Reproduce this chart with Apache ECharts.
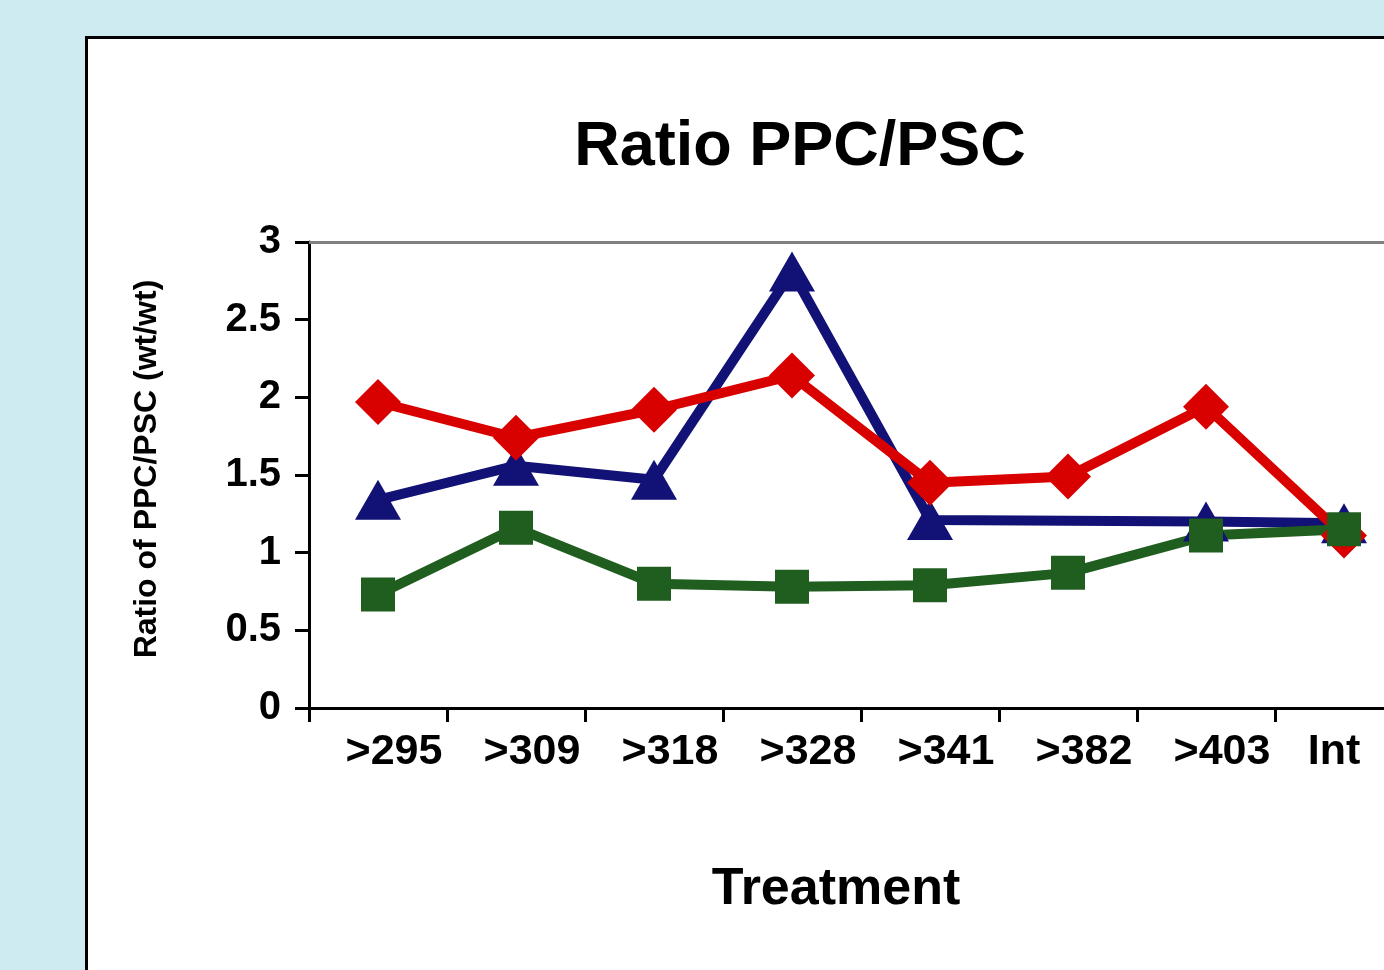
<!DOCTYPE html>
<html>
<head>
<meta charset="utf-8">
<script src="https://cdn.jsdelivr.net/npm/echarts@6/dist/echarts.min.js"></script>
<style>
html,body{margin:0;padding:0;background:#cdebf0;overflow:hidden;}
#chart{width:1440px;height:970px;}
</style>
</head>
<body>
<div id="chart"></div>
<script>
const categories = ['>295', '>309', '>318', '>328', '>341', '>382', '>403', 'Int'];
const redSeries = [1.97, 1.74, 1.92, 2.14, 1.45, 1.49, 1.94, 1.11];
const blueSeries = [1.34, 1.56, 1.47, 2.81, 1.21, null, 1.20, 1.19];
const greenSeries = [0.73, 1.16, 0.80, 0.78, 0.79, 0.87, 1.11, 1.15];
const yTicks = { min: 0, max: 3, interval: 0.5 };

const font = "'Liberation Sans', Arial, Helvetica, sans-serif";
const labelStyle = { fontFamily: font, fontWeight: 'bold', fontSize: 43, color: '#000' };

const chart = echarts.init(document.getElementById('chart'), null, { renderer: 'canvas' });
chart.setOption({
  backgroundColor: '#cdebf0',
  animation: false,
  graphic: [{
    type: 'rect', z: -10,
    shape: { x: 86.5, y: 37.5, width: 1450, height: 1000 },
    style: { fill: '#ffffff', stroke: '#000000', lineWidth: 3 }
  }],
  title: [{
    text: 'Ratio PPC/PSC',
    left: 795, top: 111, textAlign: 'center',
    textStyle: { fontFamily: font, fontWeight: 'bold', fontSize: 63, color: '#000' }
  }, {
    text: 'Treatment',
    left: 831, top: 859, textAlign: 'center',
    textStyle: { fontFamily: font, fontWeight: 'bold', fontSize: 52, color: '#000' }
  }],
  grid: { left: 309, top: 242, width: 1104, height: 466, containLabel: false },
  xAxis: [{
    type: 'category', data: categories, boundaryGap: true, position: 'bottom',
    axisLine: { lineStyle: { color: '#000', width: 3 } },
    axisTick: { show: true, inside: false, length: 14, interval: 0, lineStyle: { color: '#000', width: 3 } },
    axisLabel: {
      interval: 0, margin: 23,
      formatter: function (v) { return v === 'Int' ? '{b|' + v + '}' : '{a|' + v + '}'; },
      rich: {
        a: Object.assign({ padding: [0, 0, 0, 32] }, labelStyle),
        b: Object.assign({ padding: [0, 20, 0, 0] }, labelStyle)
      },
      ...labelStyle
    },
    splitLine: { show: false }
  }, {
    type: 'category', data: categories, boundaryGap: true, position: 'top',
    axisLine: { lineStyle: { color: '#808080', width: 3 } },
    axisTick: { show: false }, axisLabel: { show: false }, splitLine: { show: false }
  }],
  yAxis: {
    type: 'value', min: yTicks.min, max: yTicks.max, interval: yTicks.interval,
    name: 'Ratio of PPC/PSC (wt/wt)', nameLocation: 'middle', nameGap: 146, nameRotate: 90,
    nameTextStyle: { fontFamily: font, fontWeight: 'bold', fontSize: 32, color: '#000', padding: [0, 0, 0, 12] },
    axisLine: { show: true, lineStyle: { color: '#000', width: 3 } },
    axisTick: { show: true, inside: false, length: 14, lineStyle: { color: '#000', width: 3 } },
    axisLabel: { margin: 28, fontFamily: font, fontWeight: 'bold', fontSize: 40, color: '#000' },
    splitLine: { show: false }
  },
  series: [{
    name: 'blue', type: 'line', data: blueSeries, connectNulls: true,
    symbol: 'triangle', symbolSize: [46, 40],
    lineStyle: { color: '#121175', width: 10 }, itemStyle: { color: '#121175' }
  }, {
    name: 'red', type: 'line', data: redSeries,
    symbol: 'diamond', symbolSize: [46, 46],
    lineStyle: { color: '#d90000', width: 10 }, itemStyle: { color: '#d90000' }
  }, {
    name: 'green', type: 'line', data: greenSeries,
    symbol: 'rect', symbolSize: [34, 34],
    lineStyle: { color: '#205e20', width: 10 }, itemStyle: { color: '#205e20' }
  }]
});
</script>
</body>
</html>
